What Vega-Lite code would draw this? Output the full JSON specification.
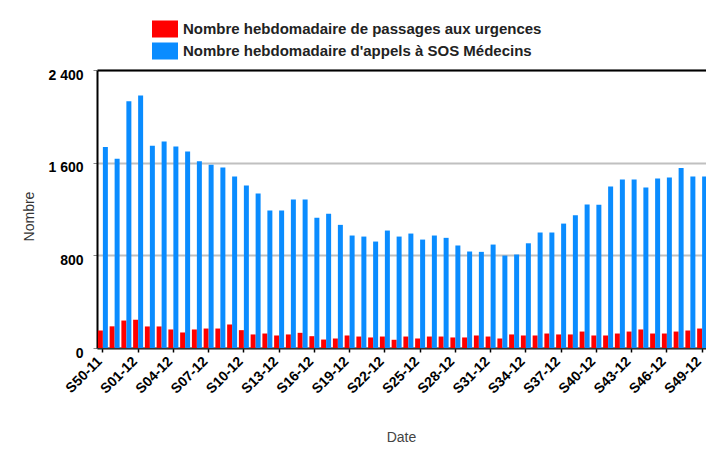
{
  "$schema": "https://vega.github.io/schema/vega-lite/v6.json",
  "autosize": {"type": "none"},
  "padding": {"left": 97, "top": 70, "right": 0, "bottom": 106},
  "width": 609,
  "height": 278,
  "background": "white",
  "config": {"view": {"stroke": null}, "font": "Liberation Sans"},
  "data": {
    "values": [
      {"semaine": "S50-11", "urgences": 151, "sos": 1736},
      {"semaine": "S51-11", "urgences": 187, "sos": 1633},
      {"semaine": "S52-11", "urgences": 237, "sos": 2130},
      {"semaine": "S01-12", "urgences": 244, "sos": 2179},
      {"semaine": "S02-12", "urgences": 186, "sos": 1745},
      {"semaine": "S03-12", "urgences": 186, "sos": 1782},
      {"semaine": "S04-12", "urgences": 160, "sos": 1739},
      {"semaine": "S05-12", "urgences": 134, "sos": 1696},
      {"semaine": "S06-12", "urgences": 160, "sos": 1612},
      {"semaine": "S07-12", "urgences": 168, "sos": 1581},
      {"semaine": "S08-12", "urgences": 168, "sos": 1558},
      {"semaine": "S09-12", "urgences": 203, "sos": 1480},
      {"semaine": "S10-12", "urgences": 154, "sos": 1402},
      {"semaine": "S11-12", "urgences": 117, "sos": 1333},
      {"semaine": "S12-12", "urgences": 125, "sos": 1187},
      {"semaine": "S13-12", "urgences": 108, "sos": 1187},
      {"semaine": "S14-12", "urgences": 117, "sos": 1282},
      {"semaine": "S15-12", "urgences": 131, "sos": 1282},
      {"semaine": "S16-12", "urgences": 102, "sos": 1124},
      {"semaine": "S17-12", "urgences": 73, "sos": 1158},
      {"semaine": "S18-12", "urgences": 82, "sos": 1063},
      {"semaine": "S19-12", "urgences": 108, "sos": 971},
      {"semaine": "S20-12", "urgences": 99, "sos": 962},
      {"semaine": "S21-12", "urgences": 91, "sos": 919},
      {"semaine": "S22-12", "urgences": 99, "sos": 1014},
      {"semaine": "S23-12", "urgences": 71, "sos": 962},
      {"semaine": "S24-12", "urgences": 99, "sos": 988},
      {"semaine": "S25-12", "urgences": 82, "sos": 936},
      {"semaine": "S26-12", "urgences": 99, "sos": 971},
      {"semaine": "S27-12", "urgences": 99, "sos": 951},
      {"semaine": "S28-12", "urgences": 91, "sos": 885},
      {"semaine": "S29-12", "urgences": 91, "sos": 833},
      {"semaine": "S30-12", "urgences": 108, "sos": 830},
      {"semaine": "S31-12", "urgences": 99, "sos": 893},
      {"semaine": "S32-12", "urgences": 82, "sos": 798},
      {"semaine": "S33-12", "urgences": 117, "sos": 807},
      {"semaine": "S34-12", "urgences": 108, "sos": 904},
      {"semaine": "S35-12", "urgences": 108, "sos": 997},
      {"semaine": "S36-12", "urgences": 125, "sos": 997},
      {"semaine": "S37-12", "urgences": 117, "sos": 1074},
      {"semaine": "S38-12", "urgences": 117, "sos": 1146},
      {"semaine": "S39-12", "urgences": 142, "sos": 1238},
      {"semaine": "S40-12", "urgences": 108, "sos": 1236},
      {"semaine": "S41-12", "urgences": 108, "sos": 1394},
      {"semaine": "S42-12", "urgences": 125, "sos": 1454},
      {"semaine": "S43-12", "urgences": 142, "sos": 1454},
      {"semaine": "S44-12", "urgences": 160, "sos": 1385},
      {"semaine": "S45-12", "urgences": 125, "sos": 1463},
      {"semaine": "S46-12", "urgences": 125, "sos": 1471},
      {"semaine": "S47-12", "urgences": 142, "sos": 1555},
      {"semaine": "S48-12", "urgences": 151, "sos": 1480},
      {"semaine": "S49-12", "urgences": 168, "sos": 1480}
    ]
  },
  "transform": [{"fold": ["urgences", "sos"], "as": ["serie", "nombre"]}],
  "layer": [
    {
      "mark": {"type": "bar"},
      "encoding": {
        "x": {
          "field": "semaine",
          "type": "nominal",
          "sort": null,
          "scale": {"range": [0, 611], "paddingInner": 0.15, "paddingOuter": 0.075},
          "axis": {
            "values": ["S50-11", "S01-12", "S04-12", "S07-12", "S10-12", "S13-12", "S16-12", "S19-12", "S22-12", "S25-12", "S28-12", "S31-12", "S34-12", "S37-12", "S40-12", "S43-12", "S46-12", "S49-12"],
            "labelAngle": -45,
            "labelAlign": "right",
            "labelBaseline": "middle",
            "labelOffset": -3,
            "labelFontSize": 14,
            "labelFontWeight": "bold",
            "labelColor": "#000000",
            "labelPadding": 7,
            "tickColor": "#000000",
            "tickSize": 4,
            "tickWidth": 1.5,
            "domainColor": "#333333",
            "domainWidth": 2,
            "grid": false,
            "title": "Date",
            "titleFontSize": 14,
            "titleFontWeight": "normal",
            "titleColor": "#444444",
            "titleX": 304,
            "titleY": 93,
            "titleAlign": "center",
            "titleBaseline": "alphabetic"
          }
        },
        "xOffset": {"field": "serie", "type": "nominal", "sort": ["urgences", "sos"]},
        "y": {
          "field": "nombre",
          "type": "quantitative",
          "scale": {"domain": [0, 2400], "nice": false},
          "axis": {
            "values": [0, 800, 1600, 2400],
            "labelExpr": "replace(format(datum.value, ','), ',', ' ')",
            "labelFontSize": 14,
            "labelFontWeight": "bold",
            "labelColor": "#000000",
            "labelOffset": 5,
            "labelPadding": 10,
            "tickSize": 4,
            "tickColor": "#888888",
            "domainColor": "#000000",
            "domainWidth": 2,
            "grid": true,
            "gridColor": "#c0c0c0",
            "gridWidth": 2,
            "title": "Nombre",
            "titleFontSize": 14,
            "titleFontWeight": "normal",
            "titleColor": "#333333",
            "titleAngle": -90,
            "titleX": -64,
            "titleY": 146,
            "titleAlign": "center",
            "titleBaseline": "alphabetic"
          }
        },
        "color": {
          "field": "serie",
          "type": "nominal",
          "scale": {"domain": ["urgences", "sos"], "range": ["#ff0000", "#0a8cff"]},
          "legend": {
            "orient": "none",
            "legendX": 55,
            "legendY": -54,
            "direction": "vertical",
            "title": null,
            "padding": 0,
            "symbolType": "M-1,-0.654H1V0.654H-1Z",
            "symbolSize": 676,
            "symbolStrokeWidth": 0,
            "symbolOpacity": 1,
            "labelFontSize": 15,
            "labelFontWeight": "bold",
            "labelColor": "#222222",
            "labelOffset": 5,
            "rowPadding": -2,
            "labelLimit": 500,
            "labelExpr": "datum.label == 'urgences' ? 'Nombre hebdomadaire de passages aux urgences' : \"Nombre hebdomadaire d'appels à SOS Médecins\""
          }
        }
      }
    },
    {
      "mark": {"type": "tick", "opacity": 0},
      "encoding": {
        "x": {
          "field": "semaine",
          "type": "nominal",
          "sort": null,
          "axis": {"orient": "top", "labels": false, "ticks": false, "domain": true, "domainColor": "#000000", "domainWidth": 2, "title": null, "grid": false}
        },
        "y": {"field": "nombre", "type": "quantitative"}
      }
    }
  ],
  "resolve": {"axis": {"x": "independent"}}
}
